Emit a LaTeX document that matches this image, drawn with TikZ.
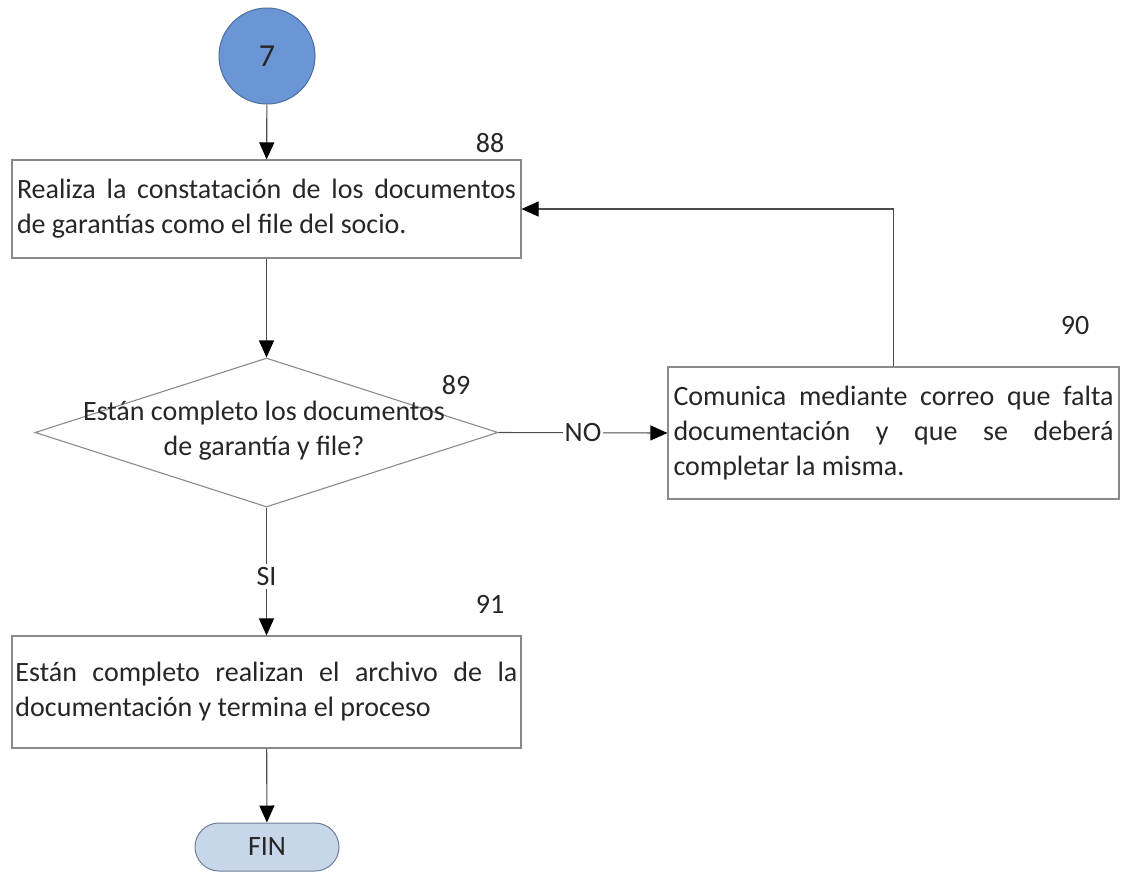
\documentclass[tikz,border=0pt]{standalone}
\usepackage{fontspec}
\setmainfont{Carlito}
\usetikzlibrary{arrows.meta,shapes.geometric,shapes.misc}
\definecolor{circfill}{HTML}{6B96D6}
\definecolor{circline}{HTML}{4D6E9E}
\definecolor{endfill}{HTML}{C7D6E9}
\definecolor{endline}{HTML}{6E7E96}
\definecolor{boxline}{HTML}{8A8A8A}
\definecolor{txt}{HTML}{262626}
\begin{document}
\hyphenpenalty=10000\relax
\begin{tikzpicture}[x=1pt,y=-1pt,
  font=\fontsize{28}{35}\selectfont, text=txt,
  stepbox/.style={draw=boxline, line width=1.1pt, inner sep=0pt},
  steptext/.style={align=justify, inner sep=0pt},
  flow/.style={draw=black!70, line width=1.1pt, -{Triangle[length=17pt,width=15pt,color=black]}},
  numlabel/.style={inner sep=0pt}]
\useasboundingbox (0,0) rectangle (1123,873);

% start connector and end terminal
\node[circle, fill=circfill, draw=circline, line width=1pt, minimum size=96pt, inner sep=0pt,
      font=\fontsize{32}{35}\selectfont, text=black!85] (start) at (267,56) {7};
\node[rounded rectangle, fill=endfill, draw=endline, line width=1pt, minimum width=144pt, minimum height=48pt, inner sep=0pt] (fin) at (267,847) {FIN};

% process steps
\node[stepbox, minimum width=509pt, minimum height=98pt] (s88) at (266.5,209) {};
\node[steptext, text width=499pt] at (s88.center)
  {Realiza la constatación de los documentos\linebreak de garantías como el file del socio.};

\node[stepbox, minimum width=451pt, minimum height=132pt] (s90) at (893.5,433) {};
\node[steptext, text width=440pt] at (s90.center)
  {Comunica mediante correo que falta\linebreak documentación y que se deberá\linebreak completar la misma.};

\node[stepbox, minimum width=509pt, minimum height=112pt] (s91) at (266.5,692) {};
\node[steptext, text width=502pt] at (s91.center)
  {Están completo realizan el archivo de la\linebreak documentación y termina el proceso};

% decision
\node[diamond, draw=boxline, line width=1.1pt, minimum width=463pt, minimum height=149pt, inner sep=0pt] (d89) at (266.5,432.5) {};
\node[align=center, inner sep=0pt] at (264,431) {Están completo los documentos\\de garantía y file?};

% step numbers
\node[numlabel] at (490,143) {88};
\node[numlabel] at (456,385) {89};
\node[numlabel] at (1075,326) {90};
\node[numlabel] at (490,604) {91};

% connectors
\draw[flow] (start) -- (s88);
\draw[flow] (s88) -- (d89);
\draw[flow] (d89.east) -- node[fill=white, inner sep=2pt] {NO} (s90.west);
\draw[flow] (d89.south) -- node[fill=white, inner sep=3pt, pos=0.54] {SI} (s91.north);
\draw[flow] (s90.north) |- (s88.east);
\draw[flow] (s91) -- (fin);
\end{tikzpicture}
\end{document}
